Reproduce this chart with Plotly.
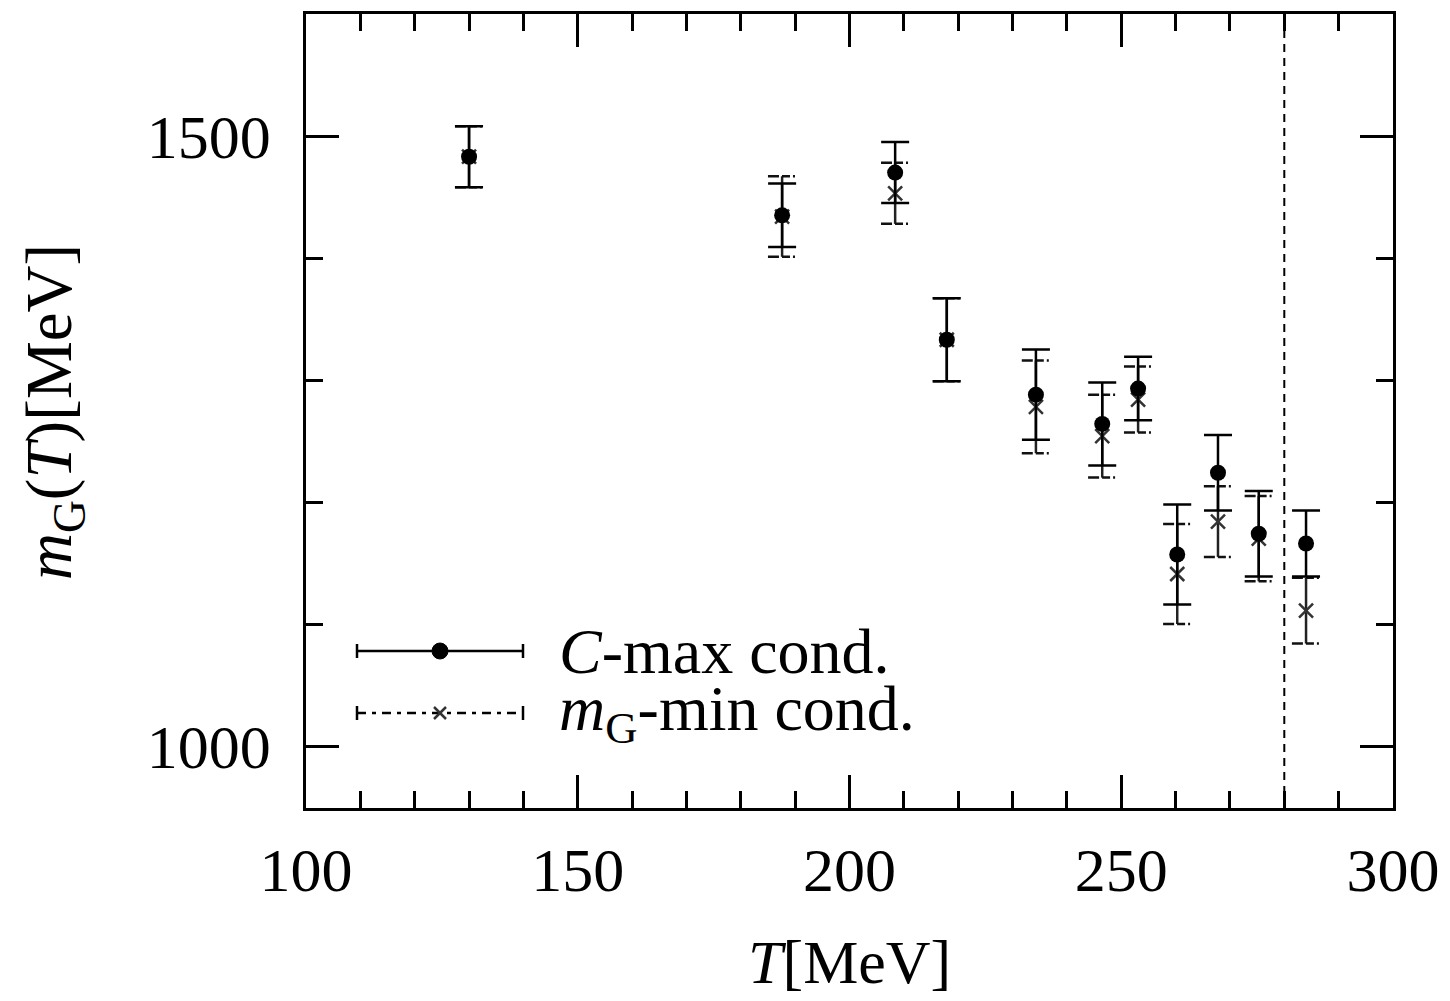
import plotly.graph_objects as go

# ---- data ----
T = [130.0, 187.6, 208.4, 217.9, 234.3, 246.5, 253.1, 260.3, 267.8, 275.3, 284.0]
m_cmax = [1483, 1435, 1470, 1333, 1288, 1264, 1293, 1157, 1224, 1174, 1166]
e_cmax = [25, 26, 25, 34, 37, 34, 26, 41, 31, 35, 27]
m_gmin = [1483, 1434, 1453, 1333, 1278, 1254, 1284, 1141, 1184, 1170, 1111]
e_gmin = [25, 33, 25, 34, 38, 34, 27, 41, 29, 35, 27]
T_c = 280.0
x_ticks = [100, 150, 200, 250, 300]
y_ticks = [1000, 1500]
x_range = [100, 300]
y_range = [949.2, 1600]
legend_labels = ["<i>C</i>-max cond.", "<i>m</i><sub>G</sub>-min cond."]

FONT = "Liberation Serif"
FS = 62
CAP_HALF = 2.6  # half cap width in T units (~14 px)

# page pixel layout (the page body has an 8px margin)
OFF = 8
FW, FH = 1450 - 2 * OFF, 1001 - 2 * OFF
L = dict(l=306, r=1393, t=14, b=808)
W = L["r"] - L["l"]
H = L["b"] - L["t"]
def px(xp):
    return (xp - L["l"]) / W
def py(yp):
    return (L["b"] - yp) / H

fig = go.Figure()

# mG-min: vertical bars + dashed caps + cross markers
fig.add_trace(go.Scatter(
    x=T, y=m_gmin, mode="markers",
    marker=dict(symbol="x-thin", size=14, line=dict(width=2.5, color="#333")),
    error_y=dict(type="data", array=e_gmin, visible=True, thickness=2.5, width=0, color="#222"),
    showlegend=False, hoverinfo="skip"))
cx, cy = [], []
for t, m, e in zip(T, m_gmin, e_gmin):
    for yv in (m + e, m - e):
        cx += [t - CAP_HALF, t + CAP_HALF, None]
        cy += [yv, yv, None]
fig.add_trace(go.Scatter(
    x=cx, y=cy, mode="lines",
    line=dict(color="#111", width=2.5, dash="11px,3px,8px,3px,2px,30px"),
    showlegend=False, hoverinfo="skip"))

# C-max: filled circles with solid error bars
fig.add_trace(go.Scatter(
    x=T, y=m_cmax, mode="markers",
    marker=dict(symbol="circle", size=16, color="black"),
    error_y=dict(type="data", array=e_cmax, visible=True, thickness=2.5, width=14, color="black"),
    showlegend=False, hoverinfo="skip"))

# vertical dashed line at T_c
fig.add_vline(x=T_c, line=dict(color="black", width=2, dash="8px,6px"))

# ---- manual legend (paper coordinates) ----
shapes = []
for yk, dash in ((651, "solid"), (713, "9px,6px,4px,6px")):
    shapes.append(dict(type="line", xref="paper", yref="paper",
                       x0=px(357), x1=px(523), y0=py(yk), y1=py(yk),
                       line=dict(color="black", width=2.5, dash=dash)))
    for xe in (357, 523):
        shapes.append(dict(type="line", xref="paper", yref="paper",
                           x0=px(xe), x1=px(xe), y0=py(yk - 7), y1=py(yk + 7),
                           line=dict(color="black", width=2.5)))
shapes.append(dict(type="circle", xref="paper", yref="paper",
                   x0=px(440 - 8), x1=px(440 + 8), y0=py(651 + 8), y1=py(651 - 8),
                   fillcolor="black", line=dict(color="black", width=1)))
for d in (1, -1):
    shapes.append(dict(type="line", xref="paper", yref="paper",
                       x0=px(440 - 6), x1=px(440 + 6), y0=py(713 - 6 * d), y1=py(713 + 6 * d),
                       line=dict(color="#333", width=2.5)))
for s in shapes:
    fig.add_shape(**s)

for lbl, yk in zip(legend_labels, (651, 713)):
    fig.add_annotation(x=px(557), y=py(yk), xref="paper", yref="paper",
                       text=lbl, showarrow=False, xanchor="left", yanchor="middle",
                       font=dict(family=FONT, size=64, color="black"))

# axis titles
fig.add_annotation(x=0.5, y=py(962), xref="paper", yref="paper", text="<i>T</i>[MeV]",
                   showarrow=False, xanchor="center", yanchor="middle",
                   font=dict(family=FONT, size=FS, color="black"))
fig.add_annotation(x=px(54), y=py(412), xref="paper", yref="paper",
                   text="<i>m</i><sub>G</sub>(<i>T</i>)[MeV]", textangle=-90,
                   showarrow=False, xanchor="center", yanchor="middle",
                   font=dict(family=FONT, size=65, color="black"))

axis_common = dict(showgrid=False, zeroline=False, linecolor="black", linewidth=2.5,
                   showline=True, ticks="inside", tickcolor="black", tickwidth=2.5, ticklen=33)
minor_common = dict(ticks="inside", tickcolor="black", tickwidth=2.5, ticklen=17)

fig.update_layout(
    width=FW, height=FH,
    paper_bgcolor="white", plot_bgcolor="white",
    margin=dict(l=L["l"] - OFF, r=FW + OFF - L["r"], t=L["t"] - OFF, b=FH + OFF - L["b"],
                autoexpand=False),
    font=dict(family=FONT, size=FS, color="black"),
    xaxis=dict(range=x_range, tickvals=x_ticks,
               minor=dict(dtick=10, **minor_common), ticklabelstandoff=6, **axis_common),
    yaxis=dict(range=y_range, tickvals=y_ticks,
               minor=dict(dtick=100, **minor_common), ticklabelstandoff=20, **axis_common),
    # mirrored frame ticks on top and right
    xaxis2=dict(overlaying="x", side="top", range=x_range, tickvals=x_ticks,
                minor=dict(dtick=10, **minor_common), showticklabels=False, **axis_common),
    yaxis2=dict(overlaying="y", side="right", range=y_range, tickvals=y_ticks,
                minor=dict(dtick=100, **minor_common), showticklabels=False, **axis_common),
)
fig.add_trace(go.Scatter(x=[None], y=[None], xaxis="x2", yaxis="y2", showlegend=False, hoverinfo="skip"))

fig.write_html("out.html")
